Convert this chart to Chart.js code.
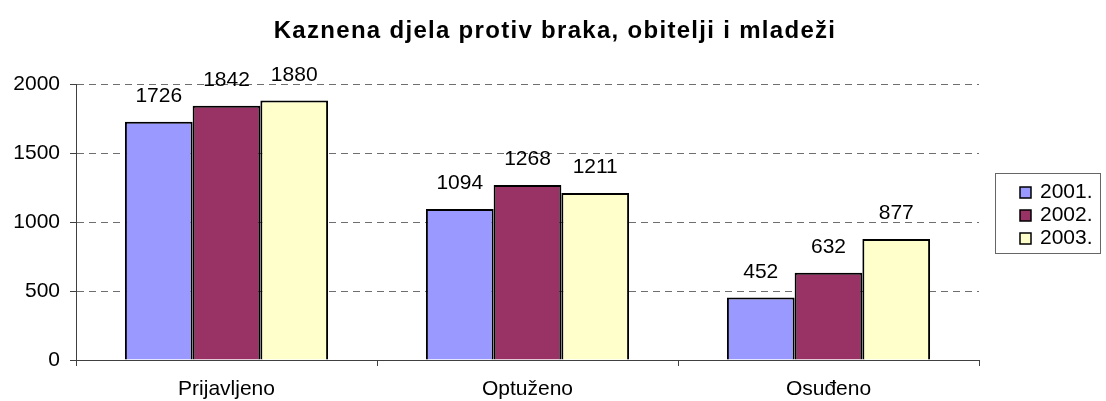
<!DOCTYPE html>
<html lang="hr">
<head>
    <meta charset="UTF-8">
    <title>Kaznena djela protiv braka, obitelji i mladeži</title>
    <script src="https://cdn.jsdelivr.net/npm/chart.js@4.4.0/dist/chart.umd.min.js"></script>
    <style>
        body { margin: 0; background: #fff; }
    </style>
</head>
<body>
    <canvas id="chart" width="1106" height="401"></canvas>

<script>
    const naslov = 'Kaznena djela protiv braka, obitelji i mladeži';
    const kategorije = ['Prijavljeno', 'Optuženo', 'Osuđeno'];
    const godine = ['2001.', '2002.', '2003.'];
    const god2001 = [1726, 1094, 452];
    const god2002 = [1842, 1268, 632];
    const god2003 = [1880, 1211, 877];
    const boje = ['#9999FF', '#993366', '#FFFFCC'];
    const yTicks = [0, 500, 1000, 1500, 2000];

    const FONT = 'Liberation Sans, Arial, sans-serif';
    const VEL = 21;

    // title, value labels and boxed legend are drawn by hand
    const crtanje = {
        id: 'crtanje',
        afterDraw(chart) {
            const ctx = chart.ctx;
            ctx.save();

            // title
            ctx.fillStyle = '#000';
            ctx.font = 'bold 24px ' + FONT;
            ctx.textAlign = 'center';
            ctx.textBaseline = 'alphabetic';
            if ('letterSpacing' in ctx) ctx.letterSpacing = '1.3px';
            ctx.fillText(naslov, 555, 38);
            if ('letterSpacing' in ctx) ctx.letterSpacing = '0px';

            // values above bars
            ctx.font = VEL + 'px ' + FONT;
            chart.data.datasets.forEach((ds, i) => {
                chart.getDatasetMeta(i).data.forEach((bar, j) => {
                    ctx.fillText(String(ds.data[j]), bar.x, bar.y - 20);
                });
            });

            // legend box
            ctx.strokeStyle = '#666';
            ctx.lineWidth = 1;
            ctx.strokeRect(995.5, 173.5, 105, 80);
            ctx.textAlign = 'left';
            chart.data.datasets.forEach((ds, i) => {
                const y = 187 + i * 23;
                ctx.fillStyle = ds.backgroundColor;
                ctx.fillRect(1020, y, 11, 11);
                ctx.strokeStyle = '#000';
                ctx.lineWidth = 1.5;
                ctx.strokeRect(1020, y, 11, 11);
                ctx.fillStyle = '#000';
                ctx.fillText(ds.label, 1040, y + 11);
            });
            ctx.restore();
        }
    };

    const ctx = document.getElementById('chart').getContext('2d');
    const myChart = new Chart(ctx, {
        type: 'bar',
        data: {
            labels: kategorije,
            datasets: [god2001, god2002, god2003].map((d, i) => ({
                label: godine[i],
                data: d,
                backgroundColor: boje[i],
                borderColor: '#000',
                borderWidth: 2,
                categoryPercentage: 0.675,
                barPercentage: 1.0
            }))
        },
        options: {
            responsive: false,
            animation: false,
            layout: { padding: { top: 84, right: 127, bottom: 0, left: 0 } },
            plugins: {
                legend: { display: false },
                title: { display: false },
                tooltip: { enabled: false }
            },
            scales: {
                x: {
                    afterFit(scale) { scale.height = 41; },
                    grid: {
                        display: true,
                        drawOnChartArea: false,
                        offset: true,
                        tickLength: 6,
                        color: '#404040'
                    },
                    border: { display: true, color: '#404040', width: 1 },
                    ticks: {
                        color: '#000',
                        font: { family: FONT, size: VEL },
                        padding: 11
                    }
                },
                y: {
                    min: 0,
                    max: 2000,
                    afterFit(scale) { scale.width = 76; },
                    afterBuildTicks(scale) {
                        scale.ticks = yTicks.map(v => ({ value: v }));
                    },
                    grid: {
                        color: '#6e6e6e',
                        tickLength: 6,
                        tickColor: '#404040'
                    },
                    border: { display: true, color: '#404040', width: 1, dash: [7, 5] },
                    ticks: {
                        color: '#000',
                        font: { family: FONT, size: VEL },
                        padding: 10,
                        callback: v => String(v)
                    }
                }
            }
        },
        plugins: [crtanje]
    });
</script>
</body>
</html>
